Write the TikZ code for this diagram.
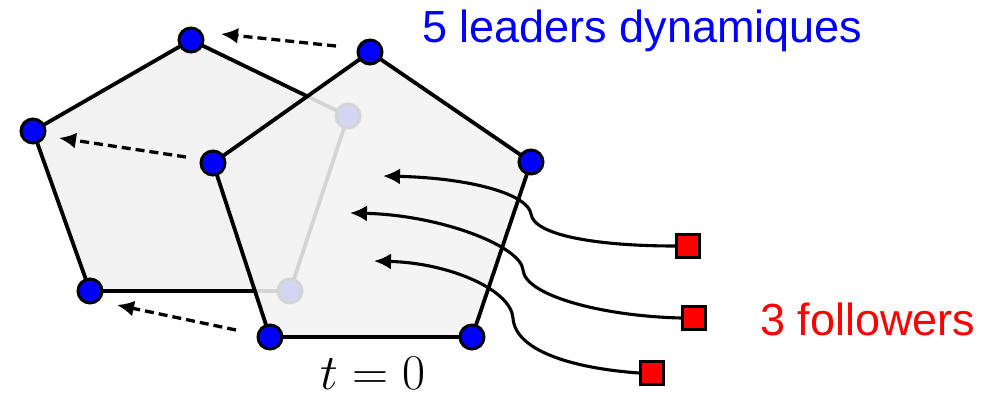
\documentclass[tikz,border=0pt]{standalone}
\usepackage{fix-cm}
\usepackage{fontspec}
\setsansfont{Liberation Sans}
\usetikzlibrary{arrows.meta}
\begin{document}
\begin{tikzpicture}[x=1pt,y=-1pt,
  leader/.style={circle,draw=black,line width=3pt,fill=blue,minimum size=24pt,inner sep=0pt},
  follower/.style={rectangle,draw=black,line width=3pt,fill=red,minimum size=23pt,inner sep=0pt},
  edgeline/.style={line width=3.8pt,line join=round},
  polyfill/.style={fill=black!5},
  dasharrow/.style={line width=3.3pt,dash pattern=on 9pt off 5pt,-{Latex[length=17pt,width=16pt]}},
  followarrow/.style={line width=3.1pt,-{Latex[length=17pt,width=16pt]}},
  bigsans/.style={font=\sffamily\fontsize{45}{50}\selectfont,inner sep=0pt}
]
\useasboundingbox (0,0) rectangle (981,393);
% old formation
\coordinate (o1) at (191,40);
\coordinate (o2) at (33,131);
\coordinate (o3) at (90,291);
\coordinate (o4) at (290,291);
\coordinate (o5) at (348,116);
\filldraw[polyfill,edgeline] (o1) -- (o5) -- (o4) -- (o3) -- (o2) -- cycle;
\foreach \i in {1,...,5} \node[leader] (O\i) at (o\i) {};
% new formation
\coordinate (n1) at (370,52);
\coordinate (n2) at (531,162);
\coordinate (n3) at (472,337);
\coordinate (n4) at (270,337);
\coordinate (n5) at (213,163);
\fill[polyfill,fill opacity=0.88] (n1) -- (n2) -- (n3) -- (n4) -- (n5) -- cycle;
\draw[edgeline] (n1) -- (n2) -- (n3) -- (n4) -- (n5) -- cycle;
\foreach \i in {1,...,5} \node[leader] (N\i) at (n\i) {};
% dashed displacement arrows
\coordinate (d1s) at (336,46);  \coordinate (d1e) at (221,34);
\coordinate (d2s) at (186,157); \coordinate (d2e) at (59,138);
\coordinate (d3s) at (236,330); \coordinate (d3e) at (117,305);
\draw[dasharrow] (d1s) -- (d1e);
\draw[dasharrow] (d2s) -- (d2e);
\draw[dasharrow] (d3s) -- (d3e);
% followers
\node[follower] (F1) at (688,246) {};
\node[follower] (F2) at (694,318) {};
\node[follower] (F3) at (652,373) {};
\coordinate (t1) at (383,176);
\coordinate (t2) at (350,213);
\coordinate (t3) at (374,261);
\draw[followarrow] (F1.west) .. controls (600,246) and (534,236) .. (531,214)
   .. controls (528,194) and (470,178) .. (t1);
\draw[followarrow] (F2.west) .. controls (600,316) and (525,295) .. (523,270)
   .. controls (521,246) and (440,215) .. (t2);
\draw[followarrow] (F3.west) .. controls (570,368) and (515,350) .. (513,318)
   .. controls (511,290) and (450,263) .. (t3);
% labels
\node[bigsans,text=blue,anchor=base west] (lab1) at (422,43) {5 leaders dynamiques};
\node[bigsans,text=red,anchor=base west] (lab2) at (760,335) {3 followers};
\node[font=\fontsize{50}{56}\selectfont,inner sep=0pt,anchor=base] (time) at (373,389) {$t=0$};
\end{tikzpicture}
\end{document}
